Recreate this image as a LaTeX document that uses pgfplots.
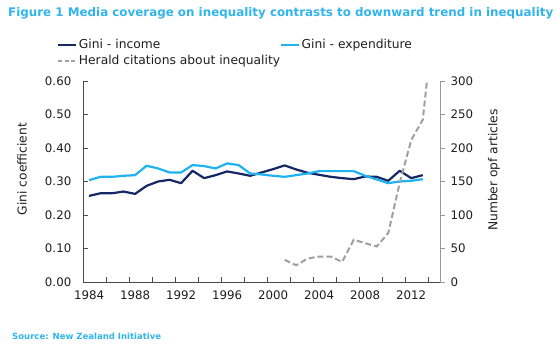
\documentclass[border=0pt]{standalone}
\usepackage{pgfplots}
\pgfplotsset{compat=1.18}
\usepackage{fontspec}
\setmainfont{DejaVu Sans}
\definecolor{navy}{RGB}{22,40,100}
\definecolor{sky}{RGB}{30,178,240}
\definecolor{hgray}{RGB}{160,160,160}
\definecolor{ttl}{RGB}{48,180,236}
\definecolor{txt}{RGB}{30,30,30}

\pgfplotstableread{
year income expend
1984 0.257 0.304
1985 0.265 0.314
1986 0.265 0.314
1987 0.270 0.317
1988 0.263 0.319
1989 0.287 0.347
1990 0.300 0.339
1991 0.305 0.327
1992 0.295 0.327
1993 0.332 0.349
1994 0.310 0.346
1995 0.319 0.339
1996 0.330 0.354
1997 0.324 0.349
1998 0.317 0.324
1999 0.327 0.321
2000 0.337 0.317
2001 0.348 0.314
2002 0.336 0.319
2003 0.326 0.324
2004 0.320 0.331
2005 0.314 0.331
2006 0.310 0.331
2007 0.307 0.331
2008 0.315 0.317
2009 0.314 0.306
2010 0.302 0.295
2011 0.332 0.300
2012 0.310 0.302
2013 0.319 0.307
}\gini

\pgfplotstableread{
year cites
2001 33
2002 25
2003 35
2004 38
2005 38
2006 30
2007 63
2008 58
2009 53
2010 73
2011 148
2012 212
2013 242
2014 400
}\herald

\begin{document}
\begin{tikzpicture}[x=1pt,y=1pt]
\useasboundingbox (0,0) rectangle (560,343);
\pgfplotsset{
  common/.style={
    at={(83.3pt,61pt)}, anchor=south west, scale only axis,
    width=356.7pt, height=201pt,
    xmin=1983.5, xmax=2014.5,
    tick label style={font=\fontsize{11.8}{13}\selectfont, text=txt},
    /pgf/number format/assume math mode=true,
  }
}
\begin{axis}[common,
  ymin=0, ymax=0.6,
  axis x line*=bottom, axis y line*=left,
  axis line style={-, draw=black!70, line width=0.7pt},
  xtick={1984,1988,...,2012},
  minor xtick={1985.5,1987.5,...,2013.5},
  ytick={0,0.1,...,0.61},
  minor ytick={0,0.1,...,0.61},
  major tick style={draw=none},
  minor tick style={draw=black!70, line width=0.6pt},
  minor tick length=5pt,
  tick align=inside,
  xticklabel style={/pgf/number format/1000 sep={}, yshift=-5pt},
  yticklabel style={/pgf/number format/.cd, fixed, fixed zerofill, precision=2, /tikz/.cd, xshift=-8.5pt},
  legend columns=2,
  legend cell align=left,
  legend image code/.code={\draw[#1] (0pt,0pt) -- (18pt,0pt);},
  legend style={at={(-0.0737,1.215)}, anchor=north west, draw=none, fill=none,
    inner sep=0pt, font=\fontsize{12.3}{14}\selectfont, text=txt,
    nodes={inner sep=1.5pt}, row sep=2pt,
    /tikz/every even column/.append style={column sep=118pt}},
]
\addplot[navy, line width=2.2pt, line join=round] table[x=year, y=income] {\gini};
\addlegendentry{Gini - income}
\addplot[sky, line width=2.2pt, line join=round] table[x=year, y=expend] {\gini};
\addlegendentry{Gini - expenditure}
\addlegendimage{hgray, line width=2pt, dash pattern=on 4pt off 2.5pt}
\addlegendentry{\rlap{Herald citations about inequality}}
\end{axis}
\begin{axis}[common,
  ymin=0, ymax=300,
  axis x line=none, axis y line*=right,
  axis line style={-, draw=black!40, line width=0.9pt},
  ytick={0,50,...,300},
  tick align=outside,
  major tick length=5pt,
  major tick style={draw=black!40, line width=0.7pt},
  yticklabel style={xshift=2pt},
]
\addplot[hgray, line width=2pt, dash pattern=on 6pt off 3pt] table[x=year, y=cites] {\herald};
\end{axis}
\node[anchor=west, text=ttl, inner sep=0pt] at (8,329.4) {\resizebox{545pt}{!}{\bfseries Figure 1 Media coverage on inequality contrasts to downward trend in inequality}};
\node[anchor=west, text=ttl, inner sep=0pt] at (12,7) {\resizebox{149pt}{!}{\bfseries Source: New Zealand Initiative}};
\node[rotate=90, text=txt, font=\fontsize{12.3}{14}\selectfont] at (22,174) {Gini coefficient};
\node[rotate=90, text=txt, font=\fontsize{12.3}{14}\selectfont] at (494,173) {Number opf articles};
\end{tikzpicture}
\end{document}
